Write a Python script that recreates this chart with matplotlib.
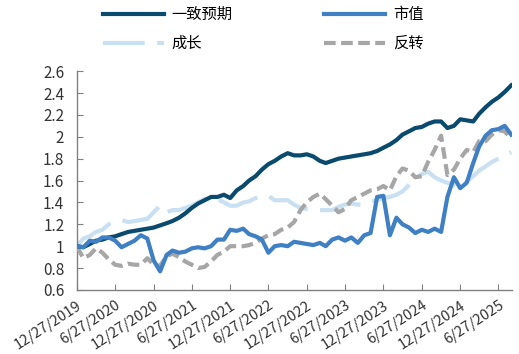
import matplotlib
matplotlib.use("Agg")
import matplotlib.pyplot as plt
import pandas as pd

# monthly observation dates (27th of each month)
dates = pd.date_range("2019-12-27", periods=69, freq=pd.DateOffset(months=1))

consensus = [1.00, 0.99, 1.02, 1.05, 1.06, 1.08, 1.09, 1.11, 1.13, 1.14,
             1.15, 1.16, 1.17, 1.19, 1.21, 1.23, 1.26, 1.30, 1.35, 1.39,
             1.42, 1.45, 1.45, 1.47, 1.44, 1.51, 1.55, 1.60, 1.64, 1.70,
             1.75, 1.78, 1.82, 1.85, 1.83, 1.83, 1.84, 1.82, 1.78, 1.76,
             1.78, 1.80, 1.81, 1.82, 1.83, 1.84, 1.85, 1.87, 1.90, 1.93,
             1.97, 2.02, 2.05, 2.08, 2.09, 2.12, 2.14, 2.14, 2.08, 2.10,
             2.16, 2.15, 2.14, 2.21, 2.27, 2.32, 2.36, 2.41, 2.47]

size = [1.00, 0.99, 1.05, 1.04, 1.08, 1.08, 1.05, 0.99, 1.02, 1.05,
        1.10, 1.07, 0.87, 0.77, 0.92, 0.96, 0.94, 0.95, 0.98, 0.99,
        0.98, 1.00, 1.06, 1.06, 1.15, 1.14, 1.16, 1.11, 1.09, 1.06,
        0.94, 1.00, 1.01, 1.00, 1.04, 1.03, 1.02, 1.01, 1.03, 1.00,
        1.06, 1.08, 1.05, 1.08, 1.03, 1.10, 1.12, 1.45, 1.46, 1.10,
        1.26, 1.20, 1.17, 1.12, 1.15, 1.13, 1.16, 1.13, 1.45, 1.63,
        1.53, 1.58, 1.76, 1.91, 2.01, 2.06, 2.07, 2.10, 2.02]

growth = [1.00, 1.07, 1.09, 1.13, 1.15, 1.20, 1.22, 1.24, 1.22, 1.23,
          1.24, 1.25, 1.31, 1.37, 1.31, 1.33, 1.33, 1.35, 1.37, 1.40,
          1.43, 1.44, 1.43, 1.40, 1.37, 1.37, 1.40, 1.41, 1.44, 1.46,
          1.46, 1.42, 1.42, 1.42, 1.38, 1.35, 1.34, 1.33, 1.33, 1.33,
          1.33, 1.36, 1.38, 1.39, 1.38, 1.38, 1.41, 1.42, 1.44, 1.45,
          1.47, 1.50, 1.56, 1.62, 1.66, 1.68, 1.63, 1.60, 1.58, 1.56,
          1.53, 1.59, 1.64, 1.69, 1.73, 1.77, 1.80, 1.83, 1.86]

reversal = [1.00, 0.89, 0.92, 0.98, 0.94, 0.88, 0.83, 0.82, 0.84, 0.83,
            0.83, 0.89, 0.83, 0.82, 0.91, 0.93, 0.90, 0.86, 0.83, 0.80,
            0.81, 0.86, 0.92, 0.95, 1.00, 1.00, 1.00, 1.01, 1.03, 1.07,
            1.10, 1.11, 1.15, 1.17, 1.22, 1.33, 1.40, 1.45, 1.48, 1.43,
            1.37, 1.31, 1.34, 1.42, 1.45, 1.48, 1.51, 1.52, 1.55, 1.51,
            1.64, 1.71, 1.69, 1.63, 1.64, 1.77, 1.88, 2.01, 1.65, 1.70,
            1.80, 1.88, 1.86, 1.96, 1.96, 2.02, 2.06, 2.05, 1.98]

tick_dates = ["2019-12-27", "2020-06-27", "2020-12-27", "2021-06-27",
              "2021-12-27", "2022-06-27", "2022-12-27", "2023-06-27",
              "2023-12-27", "2024-06-27", "2024-12-27", "2025-06-27"]
tick_labels = ["12/27/2019", "6/27/2020", "12/27/2020", "6/27/2021",
               "12/27/2021", "6/27/2022", "12/27/2022", "6/27/2023",
               "12/27/2023", "6/27/2024", "12/27/2024", "6/27/2025"]

y_ticks = [0.6, 0.8, 1.0, 1.2, 1.4, 1.6, 1.8, 2.0, 2.2, 2.4, 2.6]
y_labels = ["0.6", "0.8", "1", "1.2", "1.4", "1.6", "1.8", "2", "2.2", "2.4", "2.6"]

plt.rcParams["font.family"] = ["Noto Sans CJK SC", "DejaVu Sans"]

fig = plt.figure(figsize=(5.19, 3.54), dpi=100)
ax = fig.add_axes([0.148, 0.181, 0.839, 0.618])

lw = 3
l1, = ax.plot(dates, consensus, color="#0a4a6e", lw=lw, label="一致预期", zorder=4)
l3, = ax.plot(dates, growth, color="#c9dff2", lw=lw, dashes=(10, 3), label="成长", zorder=2)
l4, = ax.plot(dates, reversal, color="#a6a6a6", lw=lw, dashes=(2.8, 1.3), label="反转", zorder=3)
l2, = ax.plot(dates, size, color="#3f80c4", lw=lw, label="市值", zorder=5)

ax.set_ylim(0.6, 2.6)
ax.set_yticks(y_ticks)
ax.set_yticklabels(y_labels, fontsize=11)
ax.set_xlim(pd.Timestamp("2019-12-27"), pd.Timestamp("2025-09-01"))
ax.set_xticks(pd.to_datetime(tick_dates))
ax.set_xticklabels(tick_labels, rotation=33, ha="right", rotation_mode="anchor",
                   fontsize=10.5)

for side in ["top", "right"]:
    ax.spines[side].set_visible(False)
for side in ["left", "bottom"]:
    ax.spines[side].set_color("#808080")
    ax.spines[side].set_linewidth(1.0)
ax.tick_params(axis="both", direction="in", length=4, color="#808080",
               labelcolor="#333333")
ax.tick_params(axis="x", pad=6)
ax.tick_params(axis="y", pad=9)

fig.legend(handles=[l1, l3, l2, l4], loc="center", bbox_to_anchor=(0.507, 0.918),
           ncol=2, frameon=False, fontsize=11, handlelength=4.0,
           columnspacing=6.0, labelspacing=0.8, handletextpad=0.5)

fig.savefig("out.png", dpi=100)
